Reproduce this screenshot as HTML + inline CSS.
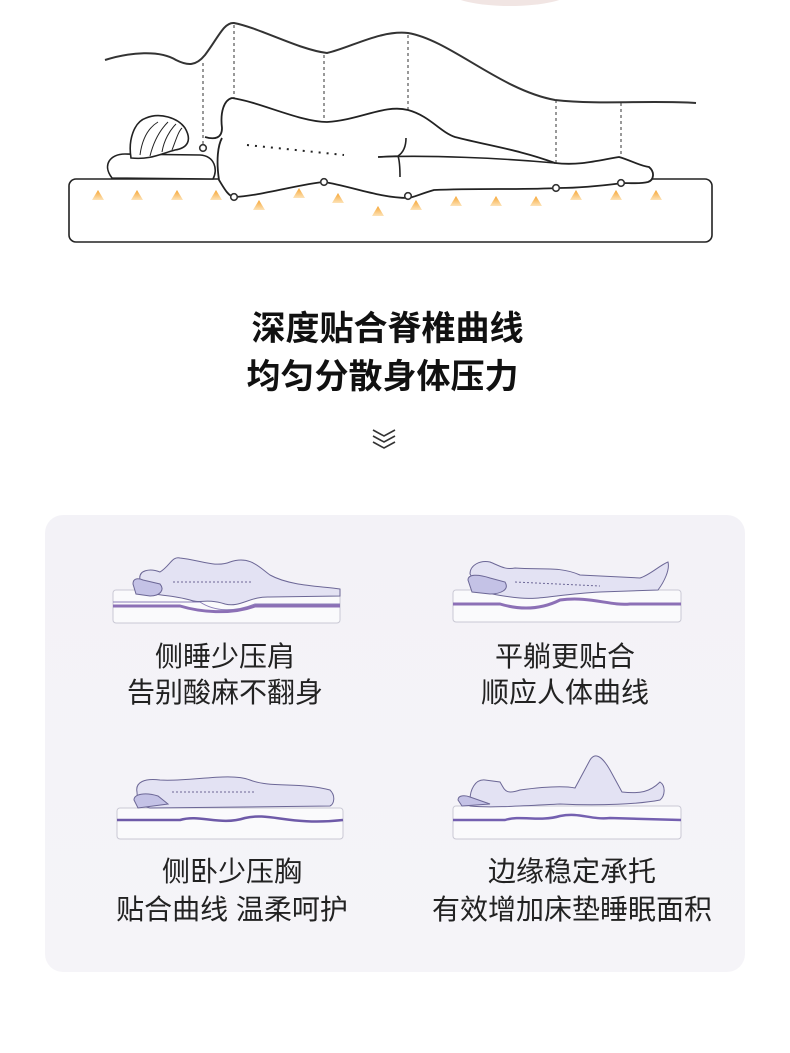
<!DOCTYPE html>
<html><head><meta charset="utf-8"><style>
body{margin:0;background:#fff;}
.wrap{position:relative;width:790px;height:1053px;overflow:hidden;font-family:"Liberation Sans","Noto Sans CJK SC",sans-serif;}
svg{position:absolute;left:0;top:0}
.t{position:absolute;text-align:center;color:#222;white-space:nowrap}
</style></head><body><div class="wrap">
<svg width="790" height="1053" viewBox="0 0 790 1053">
<defs>
<linearGradient id="ar" x1="0" y1="0" x2="0" y2="1"><stop offset="0" stop-color="#f6a532"/><stop offset="1" stop-color="#fde3b8"/></linearGradient>
<g id="arw"><path d="M-6,5 L0,-5 L6,5 Z" fill="url(#ar)"/></g>
<linearGradient id="pn" x1="0" y1="0" x2="0" y2="1"><stop offset="0" stop-color="#f3f2f7"/><stop offset="1" stop-color="#f5f4f8"/></linearGradient>
</defs>
<ellipse cx="510" cy="-8" rx="60" ry="14" fill="#e8d4d0" opacity="0.6"/>
<path d="M105,60 C130,52 160,50 176,60 C188,66 196,66 205,55 C218,38 224,22 234,23 C260,28 300,50 327,53 C350,48 380,30 408,33 C450,40 500,90 555,100 C600,105 650,100 696,103" fill="none" stroke="#333" stroke-width="2"/>
<rect x="69" y="179" width="643" height="63" rx="7" fill="#fff" stroke="#222" stroke-width="1.6"/>
<g stroke="#333" stroke-width="1" stroke-dasharray="3,3">
<line x1="203" y1="63" x2="203" y2="145"/><line x1="234" y1="25" x2="234" y2="194"/>
<line x1="324" y1="55" x2="324" y2="179"/><line x1="408" y1="35" x2="408" y2="195"/>
<line x1="556" y1="100" x2="556" y2="185"/><line x1="621" y1="103" x2="621" y2="180"/>
</g>
<path d="M112,178 C102,165 110,154 125,154 L200,155 C215,156 218,170 213,179 Z" fill="#fff" stroke="#222" stroke-width="1.6"/>
<path d="M131,158 C128,140 134,122 146,118 C160,112 178,118 185,128 C192,140 188,148 175,150 C160,154 150,160 131,158 Z" fill="#fff" stroke="#222" stroke-width="1.6"/>
<path d="M140,155 C142,140 148,128 158,122 M150,156 C154,140 160,130 168,122 M162,152 C164,140 170,130 176,124 M172,150 C176,140 178,132 182,128" fill="none" stroke="#222" stroke-width="1"/>
<path d="M205,137 C215,140 222,138 222,128 C220,112 224,100 232,98 C260,102 300,122 327,122 C360,120 385,104 408,110 C430,116 440,132 455,137 C490,146 520,150 555,163 C580,166 600,160 619,157 C630,160 640,166 649,167 C655,172 654,180 648,182 C640,184 630,183 623,183 C600,186 580,188 559,188 C520,190 480,188 434,190 C420,194 412,198 408,198 C380,198 350,186 324,182 C300,184 260,196 234,197 C228,196 224,188 219,180 C216,160 218,145 222,138" fill="#fff" stroke="#222" stroke-width="1.8"/>
<path d="M378,157 C430,155 500,158 555,163" fill="none" stroke="#222" stroke-width="1.6"/>
<path d="M378,157 L398,156 C404,152 406,146 406,138 M398,156 C400,162 400,170 400,177" fill="none" stroke="#222" stroke-width="1.6"/>
<line x1="247" y1="145" x2="344" y2="155" stroke="#222" stroke-width="2" stroke-dasharray="2,6"/>
<g fill="#fff" stroke="#333" stroke-width="1.6">
<circle cx="203" cy="148" r="3.3"/><circle cx="234" cy="197" r="3.3"/><circle cx="324" cy="182" r="3.3"/>
<circle cx="408" cy="196" r="3.3"/><circle cx="556" cy="188" r="3.3"/><circle cx="621" cy="183" r="3.3"/>
</g>
<g>
<use href="#arw" x="98" y="195"/><use href="#arw" x="137" y="195"/><use href="#arw" x="177" y="195"/><use href="#arw" x="216" y="195"/>
<use href="#arw" x="259" y="205"/><use href="#arw" x="299" y="193"/><use href="#arw" x="338" y="198"/><use href="#arw" x="378" y="211"/>
<use href="#arw" x="416" y="205"/><use href="#arw" x="456" y="201"/><use href="#arw" x="496" y="201"/><use href="#arw" x="536" y="201"/>
<use href="#arw" x="576" y="195"/><use href="#arw" x="616" y="195"/><use href="#arw" x="656" y="195"/>
</g>
<g fill="none" stroke="#333" stroke-width="1.6">
<path d="M373,430 L384,436 L395,430"/><path d="M373,436 L384,442 L395,436"/><path d="M373,442 L384,448 L395,442"/>
</g>
<rect x="45" y="515" width="700" height="457" rx="18" fill="url(#pn)"/>
<g fill="none">
<rect x="113" y="590" width="227" height="33" rx="3" fill="#fafafc" stroke="#c9c8d4"/>
<path d="M113,602 L200,602 C215,612 235,612 255,604 L340,604" stroke="#8a7cb8" stroke-width="1"/>
<path d="M113,606 L180,606 C200,612 230,615 255,606 L340,606" stroke="#8c70b6" stroke-width="3"/>
<path d="M140,580 C138,570 150,568 160,572 C170,566 172,556 180,558 C200,560 215,568 230,562 C250,555 260,568 270,575 C290,586 320,586 340,589 L340,596 L270,597 C250,596 240,608 225,604 C205,598 200,604 190,600 C170,594 150,596 140,590 Z" fill="#e3e2f3" stroke="#6c6796" stroke-width="1"/>
<path d="M133,584 C133,578 138,578 143,580 L160,584 C165,590 160,596 150,596 L136,594 Z" fill="#c4c2e6" stroke="#6c6796" stroke-width="1"/>
<line x1="173" y1="582" x2="252" y2="582" stroke="#6c6796" stroke-dasharray="2,2"/>
</g>
<g fill="none">
<rect x="453" y="590" width="228" height="32" rx="3" fill="#fafafc" stroke="#c9c8d4"/>
<path d="M453,604 L500,604 C520,610 540,610 560,600 C590,596 610,606 630,604 L681,604" stroke="#8c70b6" stroke-width="3"/>
<path d="M470,574 C470,565 480,560 490,562 C500,566 505,570 515,568 C540,570 560,566 580,575 L640,578 C650,575 660,565 668,562 C670,570 664,582 658,590 L600,592 C560,594 540,600 520,598 C500,596 490,594 480,590 Z" fill="#e3e2f3" stroke="#6c6796" stroke-width="1"/>
<path d="M468,580 C468,574 478,574 490,578 L505,582 C510,590 500,594 490,594 L472,592 Z" fill="#c4c2e6" stroke="#6c6796" stroke-width="1"/>
<line x1="515" y1="582" x2="600" y2="586" stroke="#6c6796" stroke-dasharray="2,2"/>
</g>
<g fill="none">
<rect x="117" y="808" width="226" height="31" rx="3" fill="#fafafc" stroke="#c9c8d4"/>
<path d="M117,820 L180,820 C200,814 220,826 245,818 C270,812 290,826 343,820" stroke="#6e5aa8" stroke-width="2.5"/>
<path d="M137,792 C135,782 145,778 160,780 C190,782 230,772 250,780 C270,788 300,782 330,790 C336,796 334,804 330,806 L150,808 C140,806 137,800 137,792 Z" fill="#e3e2f3" stroke="#6c6796" stroke-width="1"/>
<path d="M134,800 C134,794 145,792 158,796 L168,804 L138,808 Z" fill="#c4c2e6" stroke="#6c6796" stroke-width="1"/>
<line x1="172" y1="792" x2="255" y2="792" stroke="#6c6796" stroke-dasharray="2,2"/>
</g>
<g fill="none">
<rect x="453" y="806" width="228" height="33" rx="3" fill="#fafafc" stroke="#c9c8d4"/>
<path d="M453,820 L505,820 C520,815 540,822 560,816 C580,812 590,820 610,818 L681,820" stroke="#7460b0" stroke-width="2.5"/>
<path d="M470,800 C470,790 475,779 485,780 L500,782 C505,790 505,795 520,790 C550,786 565,786 575,788 L590,760 C595,752 602,756 610,770 L622,792 C640,794 650,792 660,782 C666,786 665,796 660,800 C640,804 600,806 560,804 C520,806 490,808 470,806 Z" fill="#e3e2f3" stroke="#6c6796" stroke-width="1"/>
<path d="M458,800 C458,795 465,795 470,797 L490,804 L462,806 Z" fill="#c4c2e6" stroke="#6c6796" stroke-width="1"/>
</g>
</svg>
<div class="t" style="left:0;width:775px;top:308px;font-size:34px;font-weight:bold;line-height:42px;color:#111">深度贴合脊椎曲线</div>
<div class="t" style="left:0;width:765px;top:356px;font-size:34px;font-weight:bold;line-height:42px;color:#111">均匀分散身体压力</div>
<div class="t" style="left:75px;width:300px;top:641px;font-size:28px;line-height:32px">侧睡少压肩</div>
<div class="t" style="left:75px;width:300px;top:677px;font-size:28px;line-height:32px">告别酸麻不翻身</div>
<div class="t" style="left:415px;width:300px;top:641px;font-size:28px;line-height:32px">平躺更贴合</div>
<div class="t" style="left:415px;width:300px;top:677px;font-size:28px;line-height:32px">顺应人体曲线</div>
<div class="t" style="left:82px;width:300px;top:856px;font-size:28px;line-height:32px">侧卧少压胸</div>
<div class="t" style="left:82px;width:300px;top:894px;font-size:28px;line-height:32px">贴合曲线 温柔呵护</div>
<div class="t" style="left:422px;width:300px;top:856px;font-size:28px;line-height:32px">边缘稳定承托</div>
<div class="t" style="left:412px;width:320px;top:894px;font-size:28px;line-height:32px">有效增加床垫睡眠面积</div>
</div></body></html>
